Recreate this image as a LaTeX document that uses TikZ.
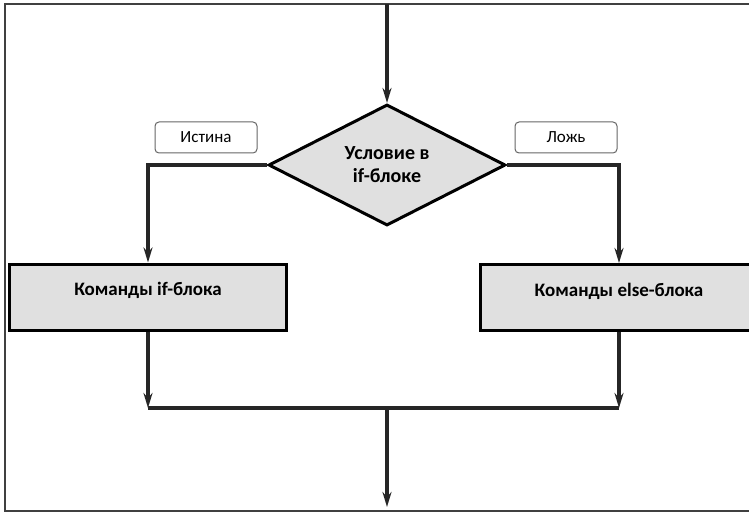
\documentclass[tikz,border=0pt]{standalone}
\usepackage{fontspec}
\setmainfont{Carlito}
\usepackage{tikz}
\usetikzlibrary{shapes,arrows.meta,positioning,calc}
\usepackage{xcolor}

\begin{document}
\begin{tikzpicture}[x=1pt, y=-1pt, >={Stealth[length=15pt,width=9pt]}]
    % Define style for the nodes
    \tikzstyle{decision node} = [diamond, draw, line width=3pt, fill=black!12, minimum width=237pt, minimum height=120pt, inner sep=0pt, align=center, font=\fontsize{20}{23}\selectfont\bfseries]
    \tikzstyle{block node} = [rectangle, draw, line width=3pt, fill=black!12, minimum width=277pt, minimum height=66pt, inner sep=0pt, font=\fontsize{19}{22}\selectfont\bfseries]
    \tikzstyle{label node} = [rectangle, rounded corners=4pt, draw=black!60, line width=1pt, fill=white, minimum width=102pt, minimum height=31pt, inner sep=0pt, font=\fontsize{17}{19}\selectfont]
    \tikzstyle{flow} = [line width=3.5pt, black!85]

    \useasboundingbox (0,0) rectangle (749,513);

    % Frame
    \draw[line width=2pt, black!75] (749,4) -- (5,4) -- (5,511) -- (749,511);

    % Nodes
    \coordinate (start) at (387,4);
    \node[decision node] (cond) at (387,165) {Условие в\\if-блоке};
    \node[label node] (true) at (206,137.5) {Истина};
    \node[label node] (false) at (566,137.5) {Ложь};
    \node[block node] (ifblock) at (148,297) {\raisebox{16pt}{Команды if-блока}};
    \node[block node] (elseblock) at (619,297.5) {\raisebox{16pt}{Команды else-блока}};
    \coordinate (merge) at (387,408);
    \coordinate (finish) at (387,507);

    % Arrows
    \draw[flow, ->] (start) -- (cond.north);
    \draw[flow, ->] (cond.west) -| (ifblock.north);
    \draw[flow, ->] (cond.east) -| (elseblock.north);
    \draw[flow, ->] (ifblock.south) -- (ifblock.south |- merge);
    \draw[flow, ->] (elseblock.south) -- (elseblock.south |- merge);
    \draw[flow] (ifblock.south |- merge) -- (elseblock.south |- merge);
    \draw[flow, ->] (merge) -- (finish);
\end{tikzpicture}
\end{document}
